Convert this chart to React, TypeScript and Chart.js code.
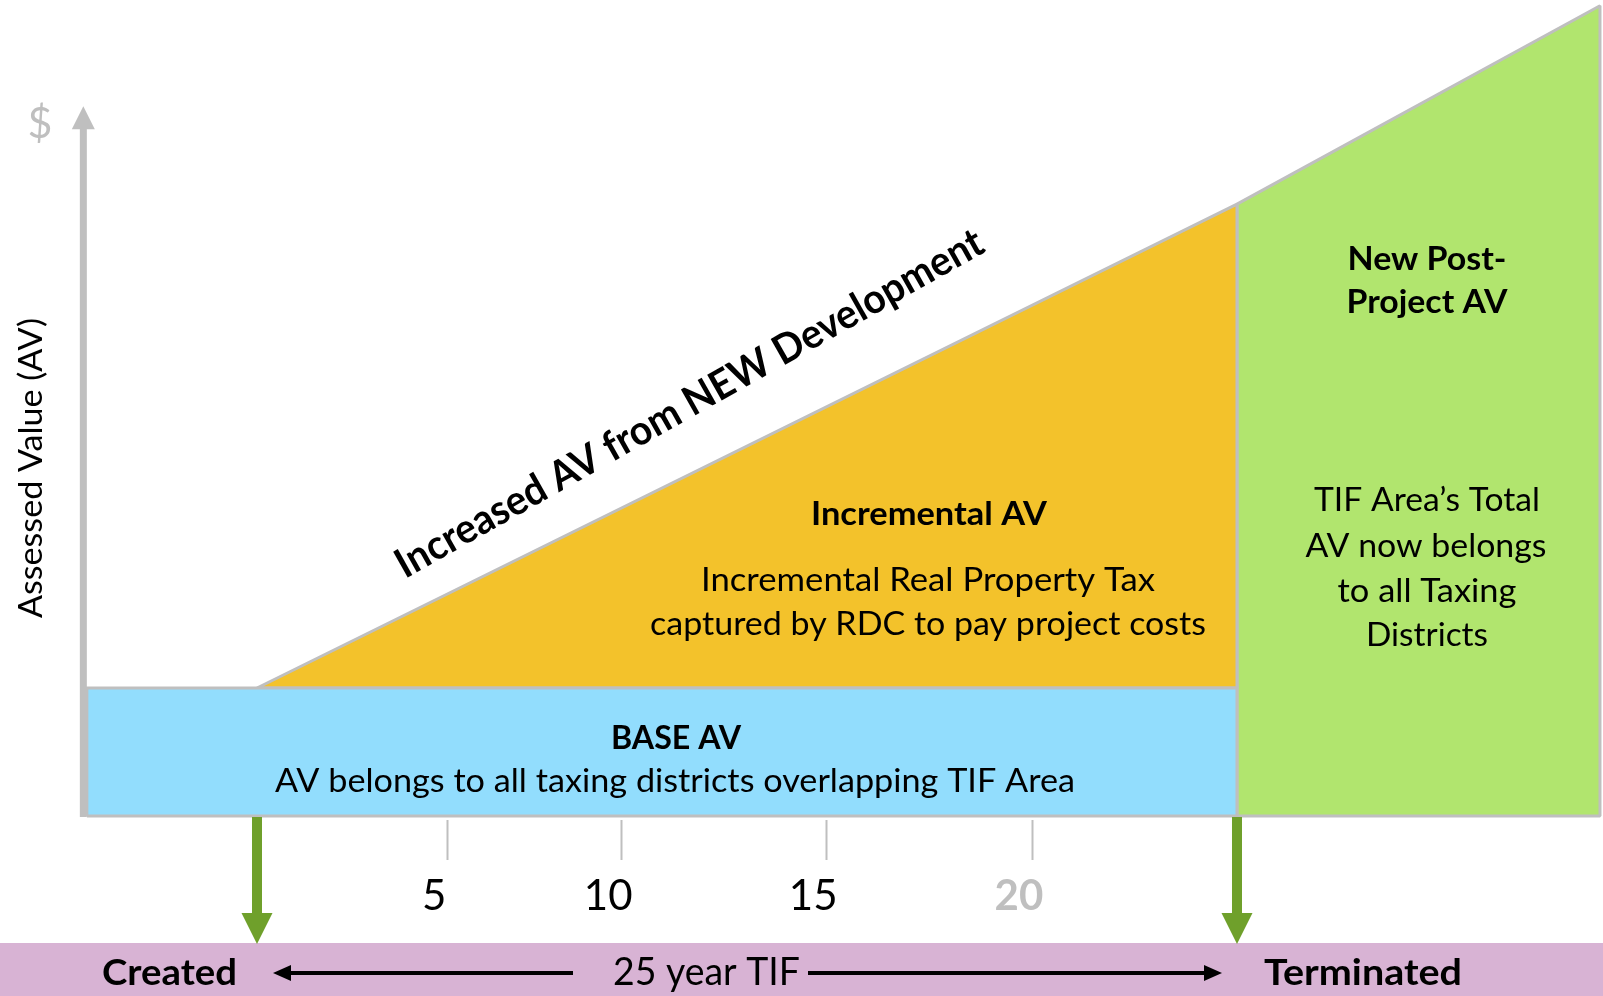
import React, { useEffect, useRef } from 'react';
import { Chart, registerables } from 'chart.js';

Chart.register(...registerables);

const CANVAS_W = 1603;
const CANVAS_H = 996;

// Horizontal axis: years since the TIF was created
const X_MIN = -6.556;
const X_MAX = 34.337;
// Vertical axis: assessed value (relative units)
const Y_MIN = -28.125;
const Y_MAX = 127.5;

const baseAV = 20;
const baseStartYear = -4.34;
const tifYears = [0, 25]; // created, terminated
const incrementalValues = [20, 95.6]; // AV at created / terminated
const postYears = [25, 34.26];
const postValues = [95.6, 126.6];
const axisYear = -4.43;
const axisTopValue = 110.9;
const tickYears = [4.85, 9.29, 14.52, 19.77];
const tickLabels = ['5', '10', '15', '20'];
const tickColors = ['#000000', '#000000', '#000000', '#BFBFBF'];
const tickWeights = ['400', '400', '400', '700'];
const milestoneLabels = ['Created', 'Terminated'];

const BLUE = '#92DDFD';
const ORANGE = '#F3C22B';
const GREEN = '#B1E56E';
const GRAY = '#BFBFBF';
const PINK = '#D8B3D4';
const ARROW_GREEN = '#6FA02B';
const FONT = 'Lato';

function fitText(
  ctx: CanvasRenderingContext2D,
  text: string,
  cx: number,
  baseline: number,
  width: number | null,
  size: number,
  weight: string,
  color: string,
  rotate = 0
) {
  ctx.save();
  ctx.font = `${weight} ${size}px ${FONT}`;
  const m = ctx.measureText(text).width;
  const sx = width ? width / m : 1;
  ctx.translate(cx, baseline);
  if (rotate) ctx.rotate(rotate);
  ctx.scale(sx, 1);
  ctx.textAlign = 'center';
  ctx.textBaseline = 'alphabetic';
  ctx.fillStyle = color;
  ctx.fillText(text, 0, 0);
  ctx.restore();
}

function arrowHead(ctx: CanvasRenderingContext2D, tipX: number, tipY: number, dx: number, dy: number, len: number, half: number, color: string) {
  ctx.save();
  ctx.fillStyle = color;
  const bx = tipX - dx * len;
  const by = tipY - dy * len;
  ctx.beginPath();
  ctx.moveTo(tipX, tipY);
  ctx.lineTo(bx - dy * half, by + dx * half);
  ctx.lineTo(bx + dy * half, by - dx * half);
  ctx.closePath();
  ctx.fill();
  ctx.restore();
}

const overlay = {
  id: 'overlay',
  afterDatasetsDraw(chart: any) {
    const { ctx, scales } = chart;
    const xs = scales.x;
    const ys = scales.y;
    const px = (v: number) => xs.getPixelForValue(v);
    const py = (v: number) => ys.getPixelForValue(v);
    const y0 = py(0);

    // Y axis with arrow
    const ax = px(axisYear);
    const tipY = py(axisTopValue);
    ctx.save();
    ctx.strokeStyle = GRAY;
    ctx.lineWidth = 7;
    ctx.beginPath();
    ctx.moveTo(ax, y0 + 1);
    ctx.lineTo(ax, tipY + 20);
    ctx.stroke();
    ctx.restore();
    arrowHead(ctx, ax, tipY, 0, -1, 23, 11.5, GRAY);

    // "$" and axis title
    fitText(ctx, '$', 40, 138, null, 43, '400', GRAY);
    fitText(ctx, 'Assessed Value (AV)', 42, 468, 300, 32, '400', '#000', -Math.PI / 2);

    // tick marks and labels
    ctx.save();
    ctx.strokeStyle = GRAY;
    ctx.lineWidth = 2;
    tickYears.forEach((t) => {
      const x = Math.round(px(t)) + 0.5;
      ctx.beginPath();
      ctx.moveTo(x, y0 + 4);
      ctx.lineTo(x, y0 + 44);
      ctx.stroke();
    });
    ctx.restore();
    tickYears.forEach((t, i) => {
      fitText(ctx, tickLabels[i], px(t) - 13, y0 + 94, null, 42, tickWeights[i], tickColors[i]);
    });

    // pink timeline band
    const bandTop = y0 + 127;
    ctx.save();
    ctx.fillStyle = PINK;
    ctx.fillRect(0, bandTop, chart.width, chart.height - bandTop);
    ctx.restore();

    // green milestone arrows
    tifYears.forEach((t) => {
      const x = px(t);
      ctx.save();
      ctx.fillStyle = ARROW_GREEN;
      ctx.fillRect(x - 5, y0 + 1, 10, bandTop - 30 - y0);
      ctx.restore();
      arrowHead(ctx, x, bandTop + 1, 0, 1, 31, 15.5, ARROW_GREEN);
    });

    // band texts
    const bandBase = bandTop + 42;
    fitText(ctx, milestoneLabels[0], 169.5, bandBase, 135, 37, '700', '#000');
    fitText(ctx, '25 year TIF', 706.5, bandBase, 187, 38, '400', '#000');
    fitText(ctx, milestoneLabels[1], 1363, bandBase, 198, 37, '700', '#000');

    // band arrows
    const ay = bandTop + 30;
    ctx.save();
    ctx.strokeStyle = '#000';
    ctx.lineWidth = 4;
    ctx.beginPath();
    ctx.moveTo(573, ay);
    ctx.lineTo(px(tifYears[0]) + 30, ay);
    ctx.moveTo(808, ay);
    ctx.lineTo(px(tifYears[1]) - 30, ay);
    ctx.stroke();
    ctx.restore();
    arrowHead(ctx, px(tifYears[0]) + 16, ay, -1, 0, 18, 8, '#000');
    arrowHead(ctx, px(tifYears[1]) - 15, ay, 1, 0, 18, 8, '#000');

    // region texts
    fitText(ctx, 'Increased AV from NEW Development', 696, 415, 668, 41, '700', '#000', (-29.4 * Math.PI) / 180);

    fitText(ctx, 'Incremental AV', 929, 525, 236, 33, '700', '#000');
    fitText(ctx, 'Incremental Real Property Tax', 928, 591, 454, 33, '400', '#000');
    fitText(ctx, 'captured by RDC to pay project costs', 928, 635, 556, 33, '400', '#000');

    fitText(ctx, 'BASE AV', 676, 749, 130, 33, '700', '#000');
    fitText(ctx, 'AV belongs to all taxing districts overlapping TIF Area', 675, 792, 800, 33, '400', '#000');

    fitText(ctx, 'New Post-', 1427, 270, 159, 33, '700', '#000');
    fitText(ctx, 'Project AV', 1427, 313, 161, 33, '700', '#000');
    fitText(ctx, 'TIF Area\u2019s Total', 1427, 511, 226, 33, '400', '#000');
    fitText(ctx, 'AV now belongs', 1426, 557, 241, 33, '400', '#000');
    fitText(ctx, 'to all Taxing', 1427, 602, 179, 33, '400', '#000');
    fitText(ctx, 'Districts', 1427, 646, 122, 33, '400', '#000');
  },
};

export default function App() {
  const ref = useRef<HTMLCanvasElement | null>(null);

  useEffect(() => {
    if (!ref.current) return;

    const basePoly = [
      { x: baseStartYear, y: 0 },
      { x: baseStartYear, y: baseAV },
      { x: tifYears[1], y: baseAV },
      { x: tifYears[1], y: 0 },
      { x: baseStartYear, y: 0 },
    ];
    const incPoly = [
      { x: tifYears[0], y: incrementalValues[0] },
      { x: tifYears[1], y: incrementalValues[1] },
      { x: tifYears[1], y: baseAV },
      { x: tifYears[0], y: baseAV },
    ];
    const postPoly = [
      { x: postYears[0], y: 0 },
      { x: postYears[0], y: postValues[0] },
      { x: postYears[1], y: postValues[1] },
      { x: postYears[1], y: 0 },
      { x: postYears[0], y: 0 },
    ];

    const common = {
      showLine: true,
      pointRadius: 0,
      pointHoverRadius: 0,
      tension: 0,
      fill: 'shape',
      borderColor: GRAY,
      borderWidth: 3,
    };

    const chart = new Chart(ref.current, {
      type: 'scatter',
      data: {
        datasets: [
          { ...common, label: 'Base AV', data: basePoly, backgroundColor: BLUE, borderJoinStyle: 'miter', order: 1 },
          { ...common, label: 'Incremental AV', data: incPoly, backgroundColor: ORANGE, borderJoinStyle: 'bevel', order: 2 },
          { ...common, label: 'New Post-Project AV', data: postPoly, backgroundColor: GREEN, borderJoinStyle: 'bevel', order: 3 },
        ] as any,
      },
      options: {
        responsive: false,
        animation: false,
        devicePixelRatio: 1,
        layout: { padding: 0 },
        events: [],
        scales: {
          x: { type: 'linear', min: X_MIN, max: X_MAX, display: false },
          y: { type: 'linear', min: Y_MIN, max: Y_MAX, display: false },
        },
        plugins: {
          legend: { display: false },
          tooltip: { enabled: false },
        },
      } as any,
      plugins: [overlay],
    });

    return () => chart.destroy();
  }, []);

  return (
    <div style={{ position: 'absolute', left: 0, top: 0, width: CANVAS_W, height: CANVAS_H, background: '#fff' }}>
      <canvas ref={ref} width={CANVAS_W} height={CANVAS_H} style={{ display: 'block', width: CANVAS_W, height: CANVAS_H }} />
    </div>
  );
}
